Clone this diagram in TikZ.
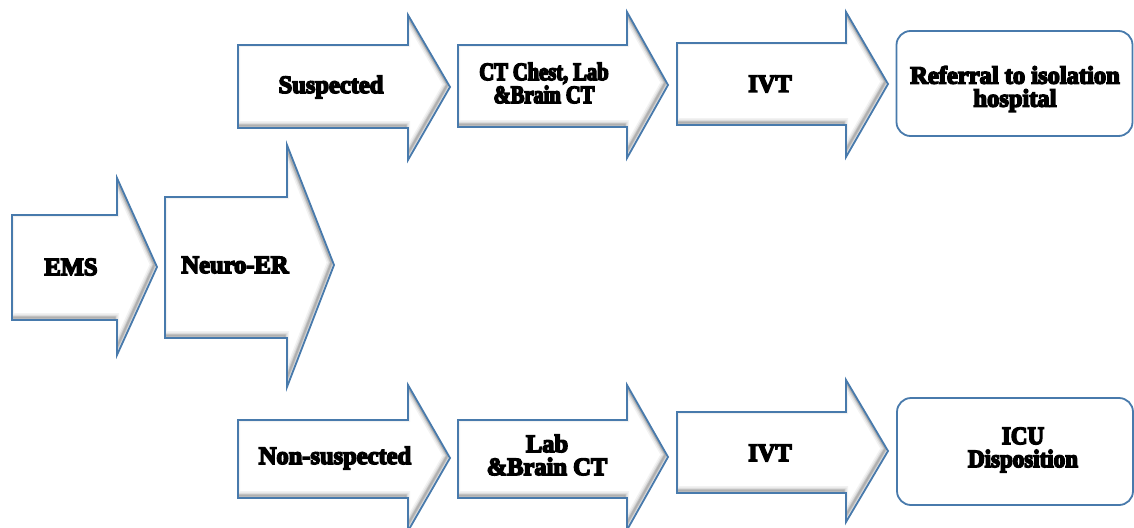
\documentclass[tikz,border=0pt]{standalone}
\usepackage{fontspec}
\setmainfont{Liberation Serif}
\newfontfamily\lblfont{Liberation Serif Bold}[FakeBold=6,FakeStretch=0.98]
\newfontfamily\lblnarrow{Liberation Serif Bold}[FakeBold=6,FakeStretch=0.82]
\newfontfamily\lblmid{Liberation Serif Bold}[FakeBold=6,FakeStretch=0.92]
\definecolor{edgeblue}{RGB}{72,122,172}
\tikzset{
  arrowline/.style={draw=edgeblue, line width=1.8pt, line join=miter},
  lbl/.style={font=\lblfont\fontsize{25}{23}\selectfont, align=center, inner sep=0pt, text=black},
  lblnar/.style={lbl, font=\lblnarrow\fontsize{25}{23}\selectfont},
  lblmd/.style={lbl, font=\lblmid\fontsize{25}{23}\selectfont},
  endbox/.style={draw=edgeblue, line width=1.8pt, rounded corners=14pt, fill=white},
}
% #1 name, #2 xl, #3 ytop, #4 ybot, #5 xneck, #6 headtop, #7 headbot, #8 xtip, #9 ytip
\newcommand\flowarrow[9]{%
  \fill[white] (#2,#3) -- (#5,#3) -- (#5,#6) -- (#8,#9) -- (#5,#7) -- (#5,#4) -- (#2,#4) -- cycle;
  \begin{scope}
    \clip (#2,#3) -- (#5,#3) -- (#5,#6) -- (#8,#9) -- (#5,#7) -- (#5,#4) -- (#2,#4) -- cycle;
    \foreach \w/\o in {9/0.05,6/0.07,3.5/0.1,2/0.12}{
      \draw[black, opacity=\o, line width=\w pt, shift={(-2.5,-2.5)}]
        (#2,#3) -- (#5,#3) -- (#5,#6) -- (#8,#9) -- (#5,#7) -- (#5,#4) -- (#2,#4) -- cycle;
    }
  \end{scope}
  \draw[arrowline] (#2,#3) -- (#5,#3) -- (#5,#6) -- (#8,#9) -- (#5,#7) -- (#5,#4) -- (#2,#4) -- cycle;
  \coordinate (#1) at ({(#2+#5)/2},{(#3+#4)/2});
}
\begin{document}
\begin{tikzpicture}[x=1pt,y=-1pt]
\useasboundingbox (0,0) rectangle (1134,527);
\fill[white] (0,0) rectangle (1134,527);

\flowarrow{ems}{12}{215}{320}{117}{178}{355}{157}{267}
\flowarrow{neuro}{165}{197}{338}{287}{145}{387}{334}{265}
\flowarrow{susp}{238}{45}{128}{408}{15}{160}{450}{87}
\flowarrow{ctchest}{458}{45}{127}{627}{12}{158}{668}{85}
\flowarrow{ivta}{677}{43}{125}{846}{12}{157}{888}{84}
\flowarrow{nonsusp}{238}{420}{498}{408}{385}{531}{450}{458}
\flowarrow{lab}{458}{420}{498}{627}{385}{530}{668}{457}
\flowarrow{ivtb}{677}{412}{493}{846}{380}{522}{888}{451}

\node[endbox, minimum width=236pt, minimum height=105pt] (refbox) at (1014.5,83.5) {};
\node[endbox, minimum width=236pt, minimum height=107pt] (icubox) at (1015,451.5) {};

\node[lbl] (t-ems) at (71,267) {EMS};
\node[lbl] (t-neuro) at (235,265) {Neuro-ER};
\node[lbl] (t-susp) at (331,87) {Suspected};
\node[lblnar] (t-ctchest) at (544,83) {CT Chest, Lab\\\&Brain CT};
\node[lbl] (t-ivta) at (770,84) {IVT};
\node[lbl] (t-ref) at (1015,89) {Referral to isolation\\hospital};
\node[lbl] (t-nonsusp) at (335,458) {Non-suspected};
\node[lbl] (t-lab) at (547,455) {Lab\\\&Brain CT};
\node[lbl] (t-ivtb) at (770,453) {IVT};
\node[lblmd] (t-icu) at (1023,450) {ICU\\Disposition};
\end{tikzpicture}
\end{document}
